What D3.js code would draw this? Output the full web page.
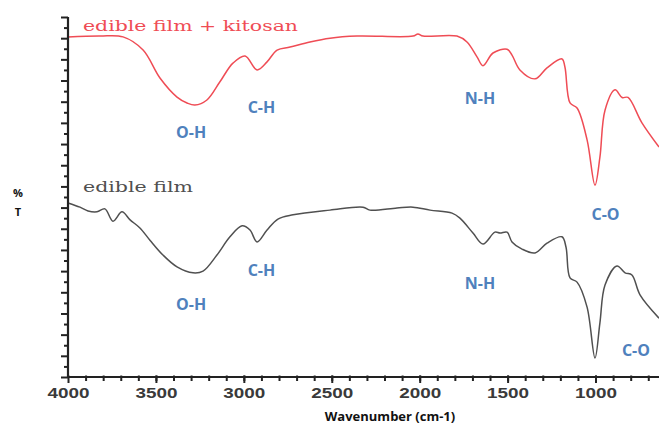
<!DOCTYPE html>
<html>
<head>
<meta charset="utf-8">
<script src="https://cdn.jsdelivr.net/npm/d3@7"></script>
<style>
  body { margin: 0; background: #fff; }
  svg { display: block; }
</style>
</head>
<body>
<svg id="chart" width="659" height="426"></svg>
<script>
// FTIR spectra, values (wavenumber cm-1, %T arbitrary units)
var kitosanWn = [4000, 3818, 3687, 3573, 3477, 3380, 3323, 3278, 3210, 3136, 3062, 2993, 2925, 2868,
  2811, 2737, 2624, 2510, 2356, 2038, 2010, 1981, 1788, 1731, 1674, 1640, 1583, 1503, 1475, 1430,
  1344, 1276, 1191, 1174, 1145, 1105, 1048, 1003, 975, 946, 889, 849, 815, 736, 639];
var kitosanT = [80.3, 80.5, 80.3, 77.2, 70.6, 66.1, 64.7, 64.2, 65.4, 69.7, 74.1, 75.8, 72.5, 74.4,
  77.2, 77.9, 79.1, 80.0, 80.5, 80.5, 81.0, 80.5, 80.5, 79.1, 75.6, 73.5, 76.5, 77.4, 76.0, 72.5,
  70.4, 73.0, 75.1, 73.2, 64.7, 63.5, 56.0, 45.3, 51.9, 63.0, 67.8, 66.0, 66.0, 60.0, 54.3];

var filmWn = [4000, 3932, 3886, 3835, 3790, 3744, 3693, 3647, 3591, 3534, 3460, 3380, 3289, 3232,
  3153, 3079, 3010, 2965, 2925, 2868, 2806, 2720, 2510, 2322, 2283, 2129, 2038, 1941, 1816, 1771,
  1697, 1640, 1572, 1543, 1503, 1475, 1418, 1344, 1276, 1191, 1168, 1145, 1105, 1048, 1003, 975,
  946, 878, 832, 793, 747, 639];
var filmT = [41.1, 40.1, 39.2, 39.0, 39.7, 36.8, 39.0, 37.1, 35.2, 32.3, 28.8, 26.0, 24.6, 25.0,
  28.8, 33.1, 35.7, 34.7, 31.9, 34.7, 37.3, 38.3, 39.4, 40.1, 39.4, 39.9, 40.1, 39.4, 38.7, 37.5,
  34.0, 31.4, 34.2, 34.0, 34.2, 31.9, 30.2, 29.3, 31.6, 33.1, 30.7, 23.4, 22.4, 16.5, 4.5, 12.8,
  21.7, 26.2, 24.6, 24.1, 19.4, 13.9];

var seriesNames = ["edible film + kitosan", "edible film"];
var xMajorTicks = [4000, 3500, 3000, 2500, 2000, 1500, 1000];
var xMinorTicks = d3.range(3900, 600, -100);

// band labels: text, wavenumber, %T
var bandText = ["O-H", "C-H", "N-H", "C-O", "C-H", "O-H", "N-H", "C-O"];
var bandWn = [3300, 2900, 1657, 943, 2900, 3300, 1657, 770];
var bandT = [56.4, 62.3, 64.5, 37.1, 23.8, 15.8, 20.8, 5.0];

(function() {
  var svg = d3.select("#chart");
  var m = { left: 68, right: 659, top: 17, bottom: 377 };

  var x = d3.scaleLinear().domain([4000, 639]).range([m.left, m.right]);
  var y = d3.scaleLinear().domain([0, 85]).range([m.bottom, m.top]);

  var line = d3.line()
    .x(function(d) { return x(d[0]); })
    .y(function(d) { return y(d[1]); })
    .curve(d3.curveCatmullRom.alpha(0.5));

  var series = [
    { name: seriesNames[0], pts: d3.zip(kitosanWn, kitosanT), color: "#ef4c55" },
    { name: seriesNames[1], pts: d3.zip(filmWn, filmT), color: "#505050" }
  ];

  svg.selectAll("path.spec")
    .data(series)
    .enter().append("path")
    .attr("class", "spec")
    .attr("d", function(d) { return line(d.pts); })
    .attr("fill", "none")
    .attr("stroke", function(d) { return d.color; })
    .attr("stroke-width", 1.5);

  //
  // axes
  var xMinor = svg.append("g")
    .attr("transform", "translate(0," + m.bottom + ")")
    .call(d3.axisBottom(x).tickValues(xMinorTicks).tickSize(4).tickFormat(""));
  var xMajor = svg.append("g")
    .attr("transform", "translate(0," + m.bottom + ")")
    .call(d3.axisBottom(x).tickValues(xMajorTicks).tickSize(6).tickPadding(5).tickFormat(d3.format("d")));
  [xMinor, xMajor].forEach(function(g) {
    g.select(".domain").remove();
    g.selectAll("line").attr("stroke", "#222").attr("stroke-width", 2).attr("y1", -1.5);
  });
  xMajor.selectAll("text")
    .attr("font-family", "Liberation Sans, Arial, sans-serif")
    .attr("font-size", 14)
    .attr("font-weight", "bold")
    .attr("fill", "#3a3a3a")
    .attr("textLength", 42)
    .attr("lengthAdjust", "spacingAndGlyphs");

  var yMinor = svg.append("g")
    .attr("transform", "translate(" + m.left + ",0)")
    .call(d3.axisLeft(y).tickValues(d3.range(2.5, 85, 5)).tickSize(4).tickFormat(""));
  var yMajor = svg.append("g")
    .attr("transform", "translate(" + m.left + ",0)")
    .call(d3.axisLeft(y).tickValues(d3.range(0, 86, 5)).tickSize(7).tickFormat(""));
  [yMinor, yMajor].forEach(function(g) {
    g.select(".domain").remove();
    g.selectAll("line").attr("stroke", "#222").attr("stroke-width", 2);
  });

  svg.append("line")
    .attr("x1", m.left).attr("x2", m.right).attr("y1", m.bottom).attr("y2", m.bottom)
    .attr("stroke", "#222").attr("stroke-width", 2.2);
  svg.append("line")
    .attr("x1", m.left).attr("x2", m.left).attr("y1", m.top).attr("y2", m.bottom + 1)
    .attr("stroke", "#222").attr("stroke-width", 2.2);

  //
  // titles
  svg.append("text")
    .attr("x", 390).attr("y", 421)
    .attr("text-anchor", "middle")
    .attr("font-family", "Open Sans, sans-serif")
    .attr("font-size", 13).attr("font-weight", "bold")
    .attr("fill", "#111")
    .text("Wavenumber (cm-1)");
  svg.selectAll("text.ylab")
    .data(["%", "T"])
    .enter().append("text")
    .attr("class", "ylab")
    .attr("x", 18).attr("y", function(d, i) { return 197 + i * 19; })
    .attr("text-anchor", "middle")
    .attr("font-family", "Open Sans, sans-serif")
    .attr("font-size", 11).attr("font-weight", "bold")
    .attr("fill", "#111")
    .text(function(d) { return d; });

  // series names
  svg.selectAll("text.legend")
    .data(series)
    .enter().append("text")
    .attr("class", "legend")
    .attr("x", 83)
    .attr("y", function(d, i) { return i ? 192 : 31; })
    .attr("font-family", "DejaVu Serif, serif")
    .attr("font-size", 15)
    .attr("fill", function(d) { return d.color; })
    .attr("textLength", function(d, i) { return i ? 110 : 215; })
    .attr("lengthAdjust", "spacingAndGlyphs")
    .text(function(d) { return d.name; });

  // band labels
  svg.selectAll("text.band")
    .data(d3.range(bandText.length))
    .enter().append("text")
    .attr("class", "band")
    .attr("x", function(i) { return x(bandWn[i]); })
    .attr("y", function(i) { return y(bandT[i]); })
    .attr("text-anchor", "middle")
    .attr("font-family", "Open Sans, sans-serif")
    .attr("font-size", 16).attr("font-weight", "bold")
    .attr("fill", "#4f81bd")
    .text(function(i) { return bandText[i]; });
})();
</script>
</body>
</html>
